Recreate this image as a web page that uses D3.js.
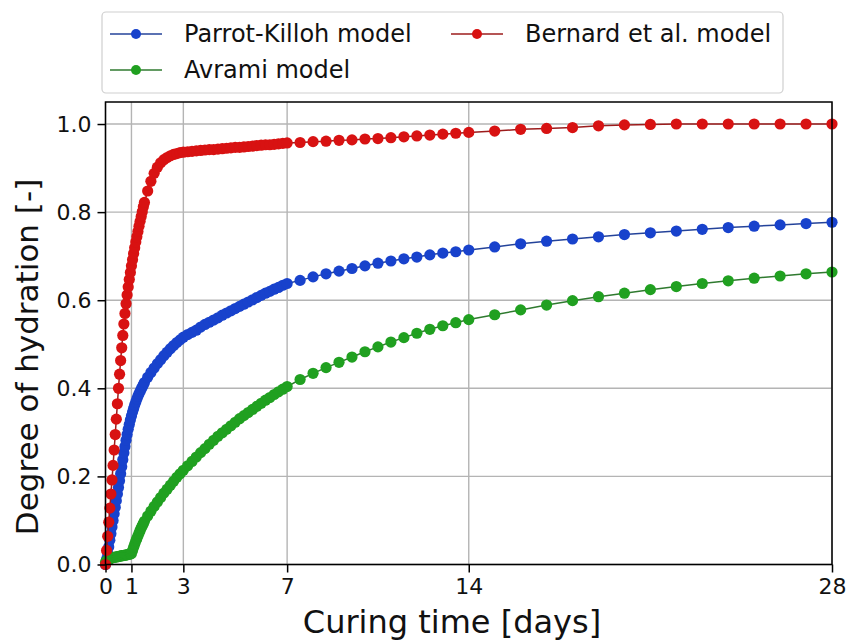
<!DOCTYPE html>
<html>
<head>
<meta charset="utf-8">
<script src="https://cdn.jsdelivr.net/npm/d3@7"></script>
<style>
  body { margin: 0; background: #fff; }
  svg { font-family: "DejaVu Sans", sans-serif; }
</style>
</head>
<body>
<svg id="chart" width="850" height="644"></svg>
<script>
// curing time, in hours (hourly early on, coarser later)
var hours = [0, 1, 2, 3, 4, 5, 6, 7, 8, 9, 10, 11, 12, 13, 14, 15, 16, 17, 18, 19, 20, 21, 22, 23, 24,
  25, 26, 27, 28, 29, 30, 31, 32, 33, 34, 35, 36,
  39, 42, 45, 48, 51, 54, 57, 60, 63, 66, 69, 72,
  76, 80, 84, 88, 92, 96, 100, 104, 108, 112, 116, 120, 124, 128, 132, 136, 140, 144, 148, 152, 156, 160, 164, 168,
  180, 192, 204, 216, 228, 240, 252, 264, 276, 288, 300, 312, 324, 336,
  360, 384, 408, 432, 456, 480, 504, 528, 552, 576, 600, 624, 648, 672];

var parrotKilloh = [0, 0.012, 0.025, 0.04, 0.055, 0.07, 0.085, 0.10, 0.115, 0.13, 0.145, 0.16, 0.175, 0.19, 0.206, 0.222,
  0.238, 0.253, 0.268, 0.282, 0.295, 0.307, 0.318, 0.328, 0.337, 0.346, 0.354, 0.362, 0.369, 0.376, 0.382, 0.388,
  0.393, 0.398, 0.403, 0.408, 0.413,
  0.425, 0.436, 0.446, 0.456, 0.465, 0.474, 0.482, 0.490, 0.497, 0.504, 0.510, 0.516,
  0.522, 0.527, 0.532, 0.539, 0.545, 0.550, 0.555, 0.560, 0.566, 0.571, 0.576, 0.581, 0.586, 0.591, 0.596, 0.601,
  0.606, 0.611, 0.616, 0.620, 0.625, 0.629, 0.634, 0.638,
  0.645, 0.653, 0.660, 0.666, 0.672, 0.678, 0.684, 0.689, 0.694, 0.698, 0.703, 0.707, 0.710, 0.714,
  0.721, 0.728, 0.734, 0.739, 0.744, 0.749, 0.753, 0.757, 0.761, 0.765, 0.768, 0.771, 0.774, 0.777];

var avrami = [0.005, 0.008, 0.010, 0.012, 0.013, 0.014, 0.015, 0.016, 0.016, 0.017, 0.017, 0.018, 0.018, 0.019, 0.019, 0.020,
  0.020, 0.021, 0.021, 0.022, 0.022, 0.023, 0.023, 0.024, 0.025, 0.032, 0.039, 0.046, 0.053, 0.059, 0.065, 0.071,
  0.077, 0.083, 0.088, 0.093, 0.098,
  0.110, 0.121, 0.132, 0.142, 0.152, 0.162, 0.171, 0.180, 0.189, 0.198, 0.206, 0.214,
  0.224, 0.234, 0.244, 0.254, 0.263, 0.273, 0.282, 0.291, 0.299, 0.307, 0.315, 0.323, 0.331, 0.338, 0.345, 0.352,
  0.359, 0.366, 0.373, 0.379, 0.386, 0.392, 0.398, 0.404,
  0.420, 0.434, 0.447, 0.459, 0.471, 0.483, 0.494, 0.505, 0.515, 0.525, 0.534, 0.542, 0.549, 0.556,
  0.567, 0.578, 0.589, 0.599, 0.608, 0.616, 0.624, 0.631, 0.638, 0.644, 0.650, 0.655, 0.660, 0.664];

var bernard = [0, 0.032, 0.064, 0.096, 0.128, 0.160, 0.192, 0.225, 0.26, 0.295, 0.33, 0.365, 0.40, 0.432, 0.463, 0.492,
  0.52, 0.546, 0.57, 0.592, 0.612, 0.63, 0.647, 0.663, 0.678, 0.692, 0.706, 0.719, 0.732, 0.744, 0.756, 0.768,
  0.779, 0.79, 0.801, 0.812, 0.822,
  0.848, 0.87, 0.888, 0.902, 0.912, 0.919, 0.924, 0.928, 0.931, 0.933, 0.935, 0.936,
  0.937, 0.938, 0.939, 0.940, 0.941, 0.942, 0.942, 0.943, 0.944, 0.945, 0.946, 0.947, 0.947, 0.948, 0.949, 0.950,
  0.951, 0.952, 0.953, 0.953, 0.954, 0.955, 0.956, 0.957,
  0.958, 0.960, 0.961, 0.963, 0.964, 0.966, 0.967, 0.969, 0.971, 0.973, 0.975, 0.977, 0.979, 0.981,
  0.984, 0.988, 0.990, 0.992, 0.996, 0.998, 0.999, 1.0, 1.0, 1.0, 1.0, 1.0, 1.0, 1.0];

var xTicks = [0, 1, 3, 7, 14, 28];
var yTicks = [0, 0.2, 0.4, 0.6, 0.8, 1.0];

// plot order matters: red ends up on top
var series = [
  {name: 'Parrot-Killoh model', values: parrotKilloh, color: '#1842cc', line: '#24439a'},
  {name: 'Avrami model', values: avrami, color: '#20a020', line: '#2f7a2f'},
  {name: 'Bernard et al. model', values: bernard, color: '#d81212', line: '#9c1c1c'}
];

var svg = d3.select('#chart');
var L = 105.5, R = 832, T = 102, B = 564.5;

var x = d3.scaleLinear().domain([0, 28]).range([L, R]);
var y = d3.scaleLinear().domain([0, 1.05]).range([B, T]);

// grid
var grid = svg.append('g').attr('stroke', '#b4b4b4').attr('stroke-width', 1.4);
grid.selectAll('.gx').data(xTicks).enter().append('line')
  .attr('x1', function (d) { return x(d) }).attr('x2', function (d) { return x(d) })
  .attr('y1', T).attr('y2', B);
grid.selectAll('.gy').data(yTicks).enter().append('line')
  .attr('y1', function (d) { return y(d) }).attr('y2', function (d) { return y(d) })
  .attr('x1', L).attr('x2', R);

// curves
var plot = svg.append('g');
var line = d3.line()
  .x(function (d, i) { return x(hours[i] / 24) })
  .y(function (d) { return y(d) });

series.forEach(function (s) {
  plot.append('path').datum(s.values)
    .attr('d', line).attr('fill', 'none')
    .attr('stroke', s.line).attr('stroke-width', 1.5);
  plot.selectAll(null).data(s.values).enter().append('circle')
    .attr('cx', function (d, i) { return x(hours[i] / 24) })
    .attr('cy', function (d) { return y(d) })
    .attr('r', 5.6).attr('fill', s.color);
});

// frame
svg.append('rect').attr('x', L).attr('y', T).attr('width', R - L).attr('height', B - T)
  .attr('fill', 'none').attr('stroke', '#000').attr('stroke-width', 1.5);

// axes
var xAxis = svg.append('g').attr('transform', 'translate(0,' + B + ')')
  .call(d3.axisBottom(x).tickValues(xTicks).tickSize(8).tickPadding(6).tickFormat(d3.format('d')));
var yAxis = svg.append('g').attr('transform', 'translate(' + L + ',0)')
  .call(d3.axisLeft(y).tickValues(yTicks).tickSize(8).tickPadding(6).tickFormat(d3.format('.1f')));
[xAxis, yAxis].forEach(function (a) {
  a.select('.domain').remove();
  a.selectAll('.tick line').attr('stroke', '#000').attr('stroke-width', 1.5);
  a.selectAll('.tick text').attr('fill', '#111').style('font-size', '22px')
    .style('font-family', '"DejaVu Sans", sans-serif');
});

svg.append('text').attr('x', 452).attr('y', 633).attr('text-anchor', 'middle')
  .style('font-size', '32px').attr('fill', '#111').text('Curing time [days]');
svg.append('text').attr('transform', 'translate(38,357) rotate(-90)')
  .attr('text-anchor', 'middle').style('font-size', '31px').attr('fill', '#111')
  .text('Degree of hydration [-]');

// legend, two columns
var leg = svg.append('g');
leg.append('rect').attr('x', 102).attr('y', 12).attr('width', 681).attr('height', 81).attr('rx', 4)
  .attr('fill', '#fff').attr('stroke', '#cfcfcf').attr('stroke-width', 1.2);
var legPos = [[110, 34], [110, 70], [451, 34]];
series.forEach(function (s, i) {
  var p = legPos[i], g = leg.append('g').attr('transform', 'translate(' + p[0] + ',' + p[1] + ')');
  g.append('line').attr('x1', 0).attr('x2', 52).attr('stroke', s.line).attr('stroke-width', 1.5);
  g.append('circle').attr('cx', 26).attr('r', 5).attr('fill', s.color);
  g.append('text').attr('x', 74).attr('dy', '0.35em').style('font-size', '24px').attr('fill', '#111').text(s.name);
});
</script>
</body>
</html>
